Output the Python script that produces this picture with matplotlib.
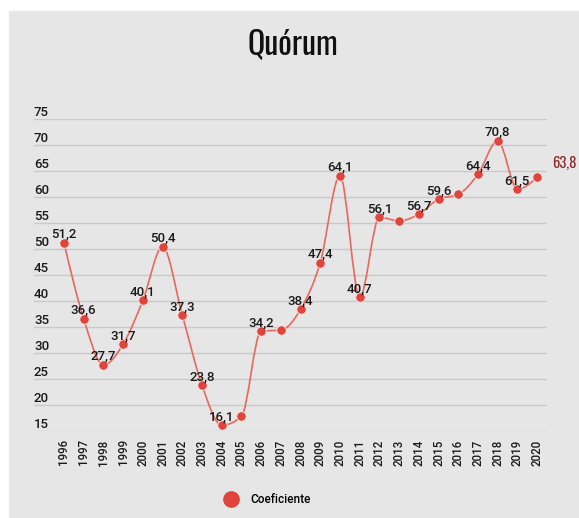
import matplotlib
matplotlib.use('Agg')
import matplotlib.pyplot as plt
from matplotlib.patches import Rectangle, PathPatch
from matplotlib.path import Path
from matplotlib.lines import Line2D
import numpy as np

years = list(range(1996, 2021))
values = [51.2, 36.6, 27.7, 31.7, 40.1, 50.4, 37.3, 23.8, 16.1, 17.8,
          34.2, 34.4, 38.4, 47.4, 64.1, 40.7, 56.1, 55.4, 56.7, 59.6,
          60.5, 64.4, 70.8, 61.5, 63.8]
labels = ['51,2', '36,6', '27,7', '31,7', '40,1', '50,4', '37,3', '23,8', '16,1', None,
          '34,2', None, '38,4', '47,4', '64,1', '40,7', '56,1', None, '56,7', '59,6',
          None, '64,4', '70,8', '61,5', None]
last_label = '63,8'
yticks = [15, 20, 25, 30, 35, 40, 45, 50, 55, 60, 65, 70, 75]

plt.rcParams['font.family'] = ['Roboto', 'DejaVu Sans']
cond = ['Oswald', 'DejaVu Sans']

red = '#e0443a'
fig = plt.figure(figsize=(5.79, 5.18), dpi=100)
fig.patches.append(Rectangle((9 / 579, 0), 1, (518 - 11) / 518, transform=fig.transFigure,
                             color='#e6e6e6', zorder=-1))

ax = fig.add_axes([34 / 579, 87 / 518, 513 / 579, 312 / 518])
ax.set_facecolor('none')
ax.set_xlim(1994.48, 2020.5)
ax.set_ylim(15, 75)

# monotone cubic line through the points, drawn as bezier segments
x = np.array(years, dtype=float)
y = np.array(values)
s = np.diff(y)
m = np.zeros(len(y))
for i in range(1, len(y) - 1):
    if s[i - 1] * s[i] > 0:
        p = (s[i - 1] + s[i]) / 2
        m[i] = (np.sign(s[i - 1]) + np.sign(s[i])) * min(abs(s[i - 1]), abs(s[i]), 0.5 * abs(p))
m[0] = (3 * s[0] - m[1]) / 2
m[-1] = (3 * s[-1] - m[-2]) / 2
verts = [(x[0], y[0])]
codes = [Path.MOVETO]
for i in range(len(x) - 1):
    verts += [(x[i] + 1 / 3, y[i] + m[i] / 3), (x[i + 1] - 1 / 3, y[i + 1] - m[i + 1] / 3),
              (x[i + 1], y[i + 1])]
    codes += [Path.CURVE4] * 3
ax.add_patch(PathPatch(Path(verts, codes), facecolor='none', edgecolor='#e6685e', lw=1.2, zorder=2))
ax.plot(years, values, 'o', color=red, markersize=6.8, markeredgecolor='#f0f0f0',
        markeredgewidth=0.6, zorder=3, clip_on=False)

for yr, v, lab in zip(years, values, labels):
    if lab:
        ax.annotate(lab, (yr, v), xytext=(0, 1.5), textcoords='offset points',
                    ha='center', va='bottom', fontsize=9.5, fontweight='medium', color='#1a1a1a', zorder=4)
ax.annotate(last_label, (years[-1], values[-1]), xytext=(11, 10), textcoords='offset points',
            ha='left', va='center', fontsize=10.5, color='#8b2a2a',
            family=cond, annotation_clip=False)

ax.set_yticks(yticks)
ax.set_yticklabels([str(t) for t in yticks])
ax.grid(axis='y', color='#c9c9c9', lw=1)
ax.set_axisbelow(True)
ax.tick_params(axis='y', length=0, pad=0, labelsize=9.5, labelcolor='#1a1a1a')
for lbl in ax.get_yticklabels():
    lbl.set_horizontalalignment('left')
    lbl.set_verticalalignment('bottom')
    lbl.set_fontweight('medium')
ax.set_xticks(years)
ax.set_xticklabels([str(v) for v in years], rotation=90, fontweight='medium')
ax.tick_params(axis='x', length=0, pad=6, labelsize=8.3, labelcolor='#1a1a1a')
for sp in ax.spines.values():
    sp.set_visible(False)

fig.text(0.506, (518 - 45) / 518, 'Quórum', ha='center', va='center', fontsize=23,
         family=cond, color='#111111')

handle = Line2D([], [], marker='o', linestyle='none', color=red, markersize=11)
fig.legend([handle], ['Coeficiente'], loc='center', bbox_to_anchor=(0.458, 0.035),
           frameon=False, prop={'size': 8.5, 'weight': 'medium'}, handletextpad=0.6)

fig.savefig('out.png', dpi=100)
